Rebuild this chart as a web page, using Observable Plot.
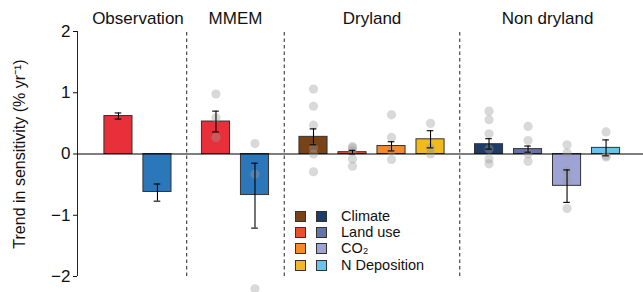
<!DOCTYPE html>
<html>
<head>
<meta charset="utf-8">
<script src="https://cdn.jsdelivr.net/npm/d3@7"></script>
<script src="https://cdn.jsdelivr.net/npm/@observablehq/plot@0.6"></script>
<style>
  html, body { margin: 0; padding: 0; background: #fff; }
  #wrap { position: relative; width: 643px; height: 292px; font-family: "Liberation Sans", Arial, Helvetica, sans-serif; }
  #legend { position: absolute; left: 295px; top: 208px; font-size: 14.5px; color: #111; line-height: 16.3px; }
  #legend .row { display: flex; align-items: center; height: 16.3px; }
  #legend .sw { width: 9px; height: 9px; border: 1px solid #333; margin-right: 10px; }
  #legend .lab { margin-left: 4px; white-space: nowrap; line-height: 15px; }
</style>
</head>
<body>
<div id="wrap"><div id="chart"></div><div id="legend"></div></div>
<script>
// ---- data ----
const groups = ["Observation", "MMEM", "Dryland", "Non dryland"];
const drivers = ["Climate", "Land use", "CO\u2082", "N Deposition"];

const obsValues = [0.62, -0.62];
const obsLow = [0.57, -0.77];
const obsHigh = [0.67, -0.49];

const mmemValues = [0.53, -0.67];
const mmemLow = [0.36, -1.21];
const mmemHigh = [0.70, -0.15];
const mmemDots = [[0.98, 0.59, 0.27], [0.17, -0.33, -2.2]];

const dryValues = [0.28, 0.03, 0.13, 0.24];
const dryLow = [0.15, 0.00, 0.05, 0.10];
const dryHigh = [0.41, 0.06, 0.20, 0.38];
const dryDots = [
  [1.06, 0.78, 0.47, 0.10, 0.0, -0.29],
  [0.12, 0.10, 0.05, -0.08, -0.20],
  [0.64, 0.27, 0.05, -0.09],
  [0.50, 0.10, 0.0]
];

const nonValues = [0.16, 0.08, -0.52, 0.10];
const nonLow = [0.08, 0.03, -0.79, -0.03];
const nonHigh = [0.25, 0.13, -0.26, 0.23];
const nonDots = [
  [0.70, 0.56, 0.33, 0.08, -0.08, -0.16],
  [0.45, 0.22, 0.0, -0.12],
  [0.15, 0.02, -0.28, -0.44, -0.89],
  [0.36, -0.03, -0.05]
];

const yTicks = [-2, -1, 0, 1, 2];
const yLabel = "Trend in sensitivity (% yr\u207B\u00B9)";

// colours
const twoColors = ["#E8303A", "#2C77BA"];
const dryColors = ["#7A4217", "#E4512B", "#F38B2E", "#F1BA1F"];
const nonColors = ["#1D3D69", "#6574A6", "#9DA3D2", "#6BC3EA"];

// ---- build table ----
const groupSpec = [
  {name: groups[0], values: obsValues, low: obsLow, high: obsHigh, dots: [[], []], colors: twoColors},
  {name: groups[1], values: mmemValues, low: mmemLow, high: mmemHigh, dots: mmemDots, colors: twoColors},
  {name: groups[2], values: dryValues, low: dryLow, high: dryHigh, dots: dryDots, colors: dryColors},
  {name: groups[3], values: nonValues, low: nonLow, high: nonHigh, dots: nonDots, colors: nonColors}
];
const GAP = 0.5; // extra slot between groups
const bars = [], dots = [], titles = [], seps = [];
let pos = 0;
groupSpec.forEach((g, gi) => {
  if (gi > 0) { seps.push(pos - 1 + (1 + GAP) / 2); pos += GAP; }
  const start = pos;
  g.values.forEach((v, i) => {
    bars.push({group: g.name, x: pos, value: v, lo: g.low[i], hi: g.high[i], color: g.colors[i]});
    g.dots[i].forEach(d => dots.push({x: pos, value: d}));
    pos += 1;
  });
  titles.push({x: (start + pos - 1) / 2, text: g.name});
});
const lastX = pos - 1;
const xMin = -1.05, xMax = lastX + 0.96;
const hw = 0.36, cap = 0.085;

const chart = Plot.plot({
  width: 643,
  height: 292,
  marginLeft: 77,
  marginRight: 0,
  marginTop: 31,
  marginBottom: 16,
  style: {fontFamily: '"Liberation Sans", Arial, Helvetica, sans-serif', fontSize: "16px", color: "#111", background: "#fff"},
  x: {domain: [xMin, xMax], axis: null},
  y: {domain: [-2, 2]},
  marks: [
    Plot.axisY({ticks: yTicks, tickSize: 4, tickPadding: 3,
      tickFormat: d => d < 0 ? "\u2212" + Math.abs(d) : String(d),
      label: null, fontSize: 17}),
    Plot.axisY({ticks: [], label: yLabel, labelAnchor: "center", labelArrow: "none", labelOffset: 64, fontSize: 16}),
    Plot.ruleX([xMin], {y1: -2, y2: 2, stroke: "#222", strokeWidth: 1}),
    Plot.ruleX(seps, {y1: -2, y2: 2, stroke: "#222", strokeWidth: 1, strokeDasharray: "3.5,3"}),
    Plot.rect(bars, {x1: d => d.x - hw, x2: d => d.x + hw, y1: 0, y2: "value", fill: "color", stroke: "#333", strokeWidth: 1}),
    Plot.ruleY([0], {stroke: "#000", strokeWidth: 1.2}),
    Plot.dot(dots, {x: "x", y: "value", r: 4.6, fill: "#9a9a9a", fillOpacity: 0.38, stroke: "none"}),
    Plot.ruleX(bars, {x: "x", y1: "lo", y2: "hi", stroke: "#000", strokeWidth: 1.1}),
    Plot.ruleY(bars, {y: "lo", x1: d => d.x - cap, x2: d => d.x + cap, stroke: "#000", strokeWidth: 1.1}),
    Plot.ruleY(bars, {y: "hi", x1: d => d.x - cap, x2: d => d.x + cap, stroke: "#000", strokeWidth: 1.1}),
    Plot.text(titles, {x: "x", text: "text", frameAnchor: "top", dy: -20, fontSize: 17, fill: "#111"})
  ]
});
document.getElementById("chart").appendChild(chart);

// legend
const leg = document.getElementById("legend");
drivers.forEach((name, i) => {
  const row = document.createElement("div");
  row.className = "row";
  const a = document.createElement("div"); a.className = "sw"; a.style.background = dryColors[i];
  const b = document.createElement("div"); b.className = "sw"; b.style.background = nonColors[i];
  const t = document.createElement("span"); t.className = "lab";
  t.textContent = name;
  row.append(a, b, t);
  leg.appendChild(row);
});
</script>
</body>
</html>
